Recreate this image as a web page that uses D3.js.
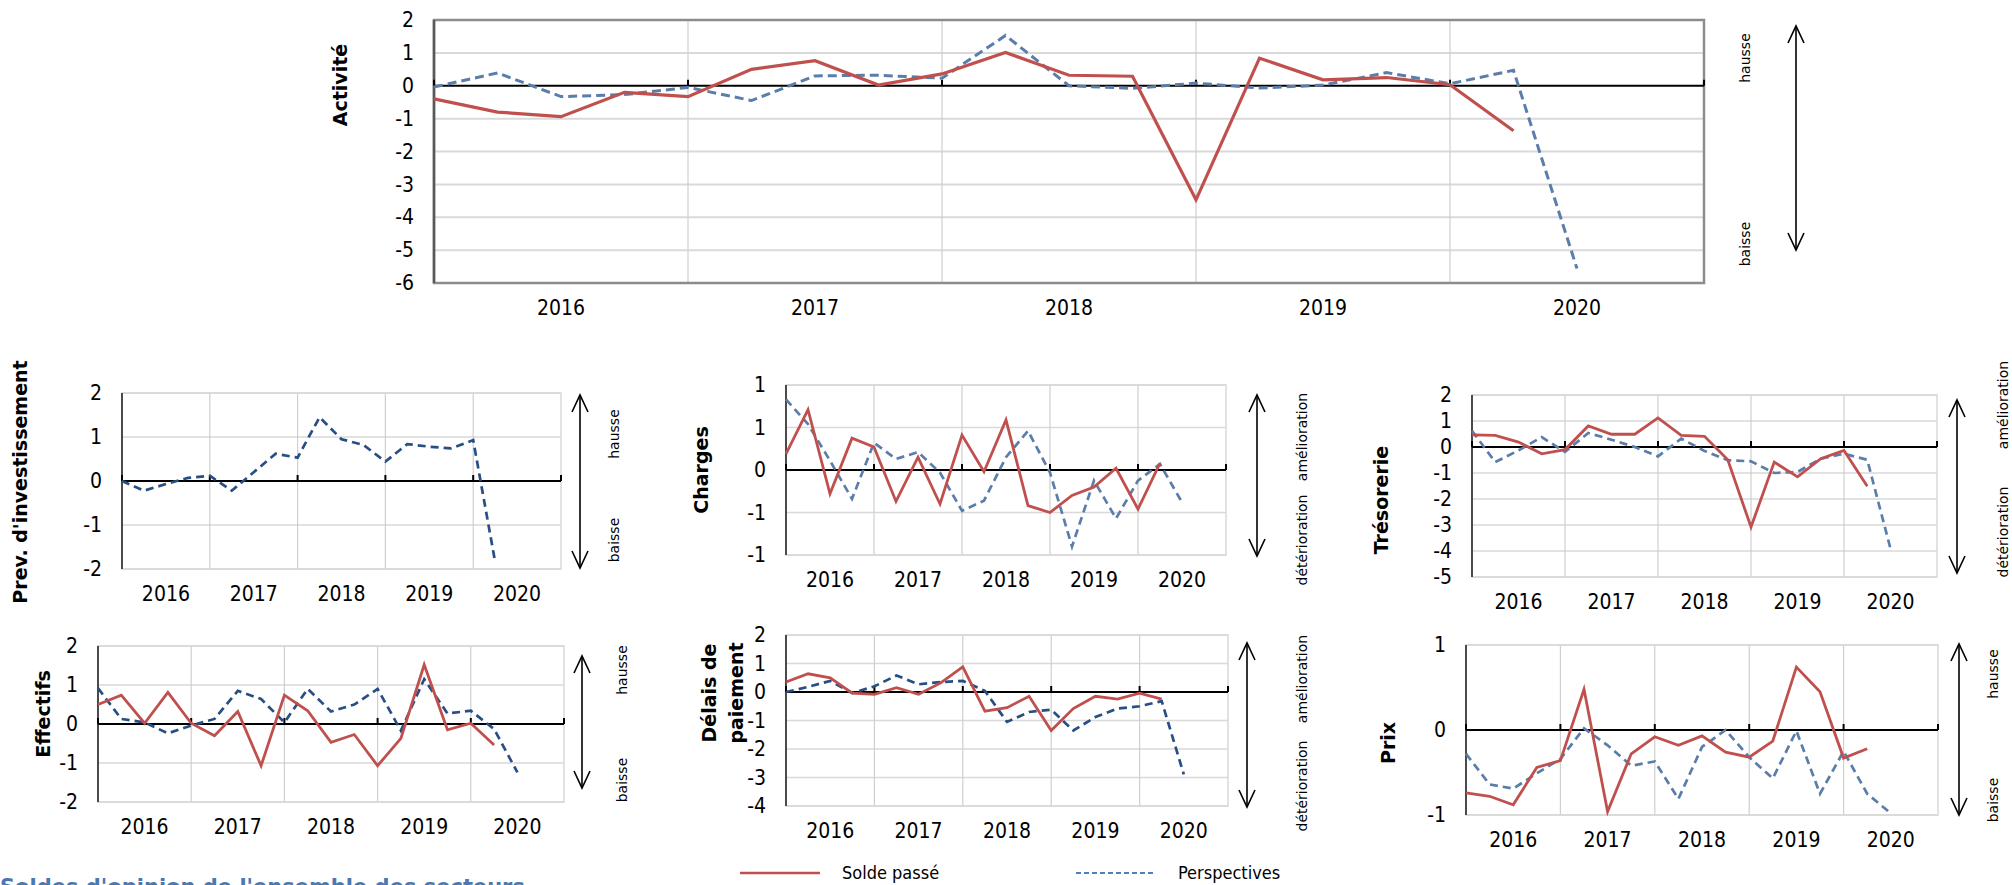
<!DOCTYPE html>
<html>
<head>
<meta charset="utf-8">
<script src="https://cdn.jsdelivr.net/npm/d3@7"></script>
<style>
  body { margin: 0; background: #fff; }
  text { font-family: "DejaVu Sans Condensed", "DejaVu Sans", sans-serif; }
</style>
</head>
<body>
<script>
// quarterly balances of opinion, one value per quarter from early 2016
var years = ["2016", "2017", "2018", "2019", "2020"];

var activiteSolde = [-0.40, -0.80, -0.94, -0.20, -0.33, 0.50, 0.76, 0.02, 0.36, 1.01, 0.32, 0.29, -3.47, 0.84, 0.18, 0.25, 0.03, -1.37];
var activitePersp = [-0.04, 0.39, -0.33, -0.27, -0.05, -0.45, 0.30, 0.32, 0.23, 1.53, 0.00, -0.08, 0.08, -0.07, 0.02, 0.40, 0.06, 0.47, -5.56];

var investPersp = [0, -0.22, -0.07, 0.07, 0.12, -0.22, 0.20, 0.62, 0.53, 1.45, 0.95, 0.82, 0.44, 0.84, 0.78, 0.74, 0.93, -1.84];

var chargesSolde = [0.19, 0.71, -0.28, 0.375, 0.27, -0.37, 0.15, -0.40, 0.41, -0.02, 0.59, -0.42, -0.50, -0.30, -0.20, 0.02, -0.46, 0.08];
var chargesPersp = [0.83, 0.54, 0.11, -0.34, 0.32, 0.13, 0.21, -0.03, -0.48, -0.36, 0.15, 0.46, -0.03, -0.90, -0.125, -0.57, -0.125, 0.07, -0.38];

var tresoSolde = [0.47, 0.45, 0.19, -0.26, -0.10, 0.81, 0.49, 0.49, 1.12, 0.45, 0.41, -0.49, -3.08, -0.58, -1.15, -0.45, -0.13, -1.51];
var tresoPersp = [0.62, -0.58, -0.13, 0.38, -0.19, 0.54, 0.28, 0.00, -0.36, 0.32, -0.15, -0.51, -0.55, -1.00, -0.96, -0.45, -0.26, -0.49, -3.91];

var effectifsSolde = [0.50, 0.74, 0.02, 0.81, 0.02, -0.30, 0.32, -1.07, 0.74, 0.34, -0.47, -0.27, -1.07, -0.37, 1.52, -0.15, 0.02, -0.54];
var effectifsPersp = [0.92, 0.13, 0.04, -0.24, -0.04, 0.13, 0.85, 0.64, 0.04, 0.90, 0.32, 0.50, 0.90, -0.17, 1.15, 0.27, 0.34, -0.13, -1.24];

var delaisSolde = [0.35, 0.64, 0.50, -0.04, -0.08, 0.15, -0.08, 0.32, 0.88, -0.67, -0.55, -0.15, -1.35, -0.58, -0.15, -0.25, -0.04, -0.25];
var delaisPersp = [0, 0.18, 0.39, -0.04, 0.20, 0.58, 0.27, 0.35, 0.39, 0.04, -1.05, -0.70, -0.62, -1.35, -0.88, -0.58, -0.50, -0.32, -2.89];

var prixSolde = [-0.74, -0.78, -0.88, -0.44, -0.36, 0.48, -0.96, -0.28, -0.08, -0.18, -0.07, -0.26, -0.32, -0.13, 0.74, 0.45, -0.33, -0.22];
var prixPersp = [-0.28, -0.64, -0.69, -0.51, -0.34, 0.02, -0.18, -0.42, -0.37, -0.81, -0.20, 0.00, -0.32, -0.57, -0.01, -0.75, -0.25, -0.75, -0.98];

var legendLabels = ["Solde passé", "Perspectives"];
var footerText = "Soldes d'opinion de l'ensemble des secteurs";

var red = "#c0504d",
    blueLight = "#5a7daa",
    blueDark = "#284f84";

var tickFont = "'DejaVu Sans Condensed','DejaVu Sans',sans-serif";

var svg = d3.select("body").append("svg")
    .attr("width", 2012)
    .attr("height", 885);

// excel style "0" format, with a plain hyphen
function fmt(d) {
  var r = Math.abs(d).toFixed(0);
  return (d < 0 ? "-" : "") + r;
}

function panel(c) {
  var g = svg.append("g");
  var x = d3.scaleLinear().domain([0, 20]).range([c.x0, c.x1]);
  var xb = d3.scaleBand().domain(years).range([c.x0, c.x1]);
  var y = d3.scaleLinear().domain(c.yDomain).range([c.yBot, c.yTop]);

  // horizontal grid
  g.selectAll(".hg").data(c.ticks.filter(function(t) { return t != 0; }))
    .enter().append("line")
    .attr("x1", c.x0).attr("x2", c.x1)
    .attr("y1", function(d) { return y(d); }).attr("y2", function(d) { return y(d); })
    .style("stroke", "#d9d9d9").style("stroke-width", c.big ? 2 : 1.5);

  // vertical grid at year boundaries
  g.selectAll(".vg").data(years.slice(1))
    .enter().append("line")
    .attr("x1", function(d) { return xb(d); }).attr("x2", function(d) { return xb(d); })
    .attr("y1", c.yTop).attr("y2", c.yBot)
    .style("stroke", "#cfcfcf").style("stroke-width", 1.2);

  // frame
  g.append("rect")
    .attr("x", c.x0).attr("y", c.yTop)
    .attr("width", c.x1 - c.x0).attr("height", c.yBot - c.yTop)
    .style("fill", "none")
    .style("stroke", c.big ? "#8c8c8c" : "#d9d9d9")
    .style("stroke-width", c.big ? 2.5 : 1.5);

  // left axis line
  g.append("line")
    .attr("x1", c.x0).attr("x2", c.x0).attr("y1", c.yTop).attr("y2", c.yBot)
    .style("stroke", c.big ? "#595959" : "#3a3a3a").style("stroke-width", c.big ? 2.5 : 1.8);

  // zero line with ticks pointing up
  g.append("line")
    .attr("x1", c.x0).attr("x2", c.x1).attr("y1", y(0)).attr("y2", y(0))
    .style("stroke", "#000").style("stroke-width", 2);
  var tickX = years.map(function(d) { return xb(d); }).concat([c.x1]);
  g.selectAll(".zt").data(tickX)
    .enter().append("line")
    .attr("x1", function(d) { return d; }).attr("x2", function(d) { return d; })
    .attr("y1", y(0) - 6).attr("y2", y(0))
    .style("stroke", "#000").style("stroke-width", 2);

  // y tick labels
  var ya = g.append("g")
    .attr("transform", "translate(" + c.x0 + ",0)")
    .call(d3.axisLeft(y).tickValues(c.ticks).tickFormat(fmt).tickSize(0).tickPadding(20));
  ya.select(".domain").remove();
  ya.selectAll("text").style("font-size", "21px").style("fill", "#000")
    .style("font-family", tickFont).style("font-stretch", "condensed");

  // year labels
  var xa = g.append("g")
    .attr("transform", "translate(0," + c.yBot + ")")
    .call(d3.axisBottom(xb).tickSize(0).tickPadding(17));
  xa.select(".domain").remove();
  xa.selectAll("text").style("font-size", "21px").style("fill", "#000")
    .style("font-family", tickFont).style("font-stretch", "condensed");

  var line = d3.line()
    .x(function(d, i) { return x(i); })
    .y(function(d) { return y(d); });

  if (c.persp) {
    g.append("path").datum(c.persp)
      .attr("d", line)
      .style("fill", "none")
      .style("stroke", c.perspColor)
      .style("stroke-width", c.big ? 3 : 2.7)
      .style("stroke-dasharray", c.big ? "9,5" : "8,5");
  }
  if (c.solde) {
    g.append("path").datum(c.solde)
      .attr("d", line)
      .style("fill", "none")
      .style("stroke", red)
      .style("stroke-width", c.big ? 3.2 : 2.8)
      .style("stroke-linejoin", "miter");
  }

  // rotated title
  var t = g.append("text")
    .attr("transform", "translate(" + c.title.x + "," + c.title.y + ") rotate(-90)")
    .attr("text-anchor", "middle")
    .style("font-family", "'DejaVu Sans',sans-serif")
    .style("font-weight", "bold")
    .style("font-size", "19px");
  c.title.lines.forEach(function(l, i) {
    t.append("tspan").attr("x", 0).attr("dy", i == 0 ? (c.title.lines.length > 1 ? "-0.15em" : "0.35em") : "1.4em").text(l);
  });

  // double arrow
  var a = c.arrow;
  g.append("line").attr("x1", a.x).attr("x2", a.x).attr("y1", a.y0).attr("y2", a.y1)
    .style("stroke", "#000").style("stroke-width", 1.6);
  g.append("path")
    .attr("d", "M" + (a.x - 8) + "," + (a.y0 + 17) + "L" + a.x + "," + a.y0 + "L" + (a.x + 8) + "," + (a.y0 + 17) +
               "M" + (a.x - 8) + "," + (a.y1 - 17) + "L" + a.x + "," + a.y1 + "L" + (a.x + 8) + "," + (a.y1 - 17))
    .style("fill", "none").style("stroke", "#000").style("stroke-width", 1.6);

  c.side.forEach(function(s) {
    g.append("text")
      .attr("transform", "translate(" + s.x + "," + s.y + ") rotate(-90)")
      .attr("text-anchor", "middle")
      .attr("dy", "0.35em")
      .style("font-family", "'DejaVu Sans',sans-serif")
      .style("font-size", "14px")
      .text(s.text);
  });
}

panel({
  big: true, x0: 434, x1: 1704, yTop: 20, yBot: 283,
  yDomain: [-6, 2], ticks: [-6, -5, -4, -3, -2, -1, 0, 1, 2],
  solde: activiteSolde, persp: activitePersp, perspColor: blueLight,
  title: {x: 340, y: 85, lines: ["Activité"]},
  arrow: {x: 1796, y0: 26, y1: 250},
  side: [{x: 1745, y: 58, text: "hausse"}, {x: 1745, y: 244, text: "baisse"}]
});

panel({
  x0: 122, x1: 561, yTop: 393, yBot: 569,
  yDomain: [-2, 2], ticks: [-2, -1, 0, 1, 2],
  persp: investPersp, perspColor: blueDark,
  title: {x: 20, y: 482, lines: ["Prev. d'investissement"]},
  arrow: {x: 580, y0: 395, y1: 568},
  side: [{x: 614, y: 434, text: "hausse"}, {x: 614, y: 540, text: "baisse"}]
});

panel({
  x0: 786, x1: 1226, yTop: 385, yBot: 555,
  yDomain: [-1, 1], ticks: [-1, -0.5, 0, 0.5, 1],
  solde: chargesSolde, persp: chargesPersp, perspColor: blueLight,
  title: {x: 701, y: 470, lines: ["Charges"]},
  arrow: {x: 1257, y0: 395, y1: 556},
  side: [{x: 1302, y: 437, text: "amélioration"}, {x: 1302, y: 540, text: "détérioration"}]
});

panel({
  x0: 1472, x1: 1937, yTop: 395, yBot: 577,
  yDomain: [-5, 2], ticks: [-5, -4, -3, -2, -1, 0, 1, 2],
  solde: tresoSolde, persp: tresoPersp, perspColor: blueLight,
  title: {x: 1381, y: 500, lines: ["Trésorerie"]},
  arrow: {x: 1957, y0: 400, y1: 573},
  side: [{x: 2003, y: 405, text: "amélioration"}, {x: 2003, y: 532, text: "détérioration"}]
});

panel({
  x0: 98, x1: 564, yTop: 646, yBot: 802,
  yDomain: [-2, 2], ticks: [-2, -1, 0, 1, 2],
  solde: effectifsSolde, persp: effectifsPersp, perspColor: blueDark,
  title: {x: 43, y: 714, lines: ["Effectifs"]},
  arrow: {x: 582, y0: 656, y1: 788},
  side: [{x: 622, y: 670, text: "hausse"}, {x: 622, y: 780, text: "baisse"}]
});

panel({
  x0: 786, x1: 1228, yTop: 635, yBot: 806,
  yDomain: [-4, 2], ticks: [-4, -3, -2, -1, 0, 1, 2],
  solde: delaisSolde, persp: delaisPersp, perspColor: blueDark,
  title: {x: 719, y: 693, lines: ["Délais de", "paiement"]},
  arrow: {x: 1247, y0: 643, y1: 807},
  side: [{x: 1302, y: 679, text: "amélioration"}, {x: 1302, y: 786, text: "détérioration"}]
});

panel({
  x0: 1466, x1: 1938, yTop: 645, yBot: 815,
  yDomain: [-1, 1], ticks: [-1, 0, 1],
  solde: prixSolde, persp: prixPersp, perspColor: blueLight,
  title: {x: 1388, y: 743, lines: ["Prix"]},
  arrow: {x: 1959, y0: 644, y1: 815},
  side: [{x: 1993, y: 674, text: "hausse"}, {x: 1993, y: 800, text: "baisse"}]
});

// legend
var legend = svg.append("g");
var legendItems = [
  {label: legendLabels[0], x: 740, color: red, dash: null},
  {label: legendLabels[1], x: 1076, color: "#4f7fb8", dash: "5,3"}
];
legendItems.forEach(function(d) {
  legend.append("line")
    .attr("x1", d.x).attr("x2", d.x + 80).attr("y1", 873).attr("y2", 873)
    .style("stroke", d.color).style("stroke-width", d.dash ? 2 : 2.5)
    .style("stroke-dasharray", d.dash);
  legend.append("text")
    .attr("x", d.x + 102).attr("y", 873).attr("dy", "0.35em")
    .style("font-size", "18px")
    .style("font-stretch", "condensed")
    .text(d.label);
});

// footer title, cut by the bottom edge
svg.append("text")
  .attr("x", 0).attr("y", 894)
  .style("font-family", "'DejaVu Sans',sans-serif")
  .style("font-weight", "bold")
  .style("font-size", "21px")
  .style("fill", "#4a78b2")
  .text(footerText);
</script>
</body>
</html>
